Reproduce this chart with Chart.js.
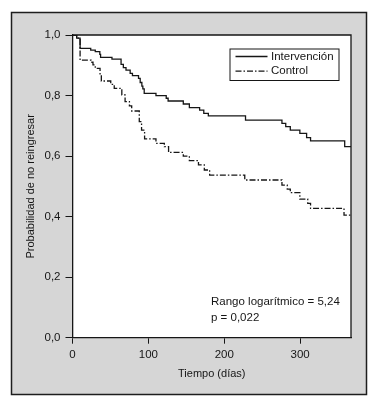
<!DOCTYPE html>
<html><head><meta charset="utf-8">
<script src="https://cdn.jsdelivr.net/npm/chart.js@4/dist/chart.umd.min.js"></script>
<style>html,body{margin:0;padding:0;background:#fff}#wrap{width:374px;height:402px;position:relative}</style>
</head><body><div id="wrap"><canvas id="c" width="374" height="402"></canvas></div>
<script>
// ---- data ----
const intLabel = 'Intervención';
const ctlLabel = 'Control';
const intTimes = [0, 5.5, 10, 24, 30, 36, 37, 52, 64, 67, 70.5, 76, 79, 87, 89.2, 91.4, 92.7, 94.5, 110, 123.5, 126, 146, 154, 167.5, 173, 179, 228, 276, 281, 287, 299.6, 308.5, 313.7, 358.7, 367];
const intSurv  = [1.0, 0.99, 0.956, 0.950, 0.945, 0.936, 0.926, 0.92, 0.903, 0.892, 0.884, 0.873, 0.866, 0.857, 0.843, 0.831, 0.822, 0.807, 0.80, 0.791, 0.782, 0.772, 0.76, 0.752, 0.741, 0.733, 0.719, 0.708, 0.697, 0.686, 0.675, 0.661, 0.65, 0.631, 0.631];
const ctlTimes = [0, 5.5, 10, 24.4, 27, 30, 36.3, 38, 50.4, 55, 65, 69.3, 75, 78, 88, 91, 95, 110, 121, 126.6, 146, 154, 166, 173.7, 180.7, 227, 276, 283, 287, 299.6, 310, 313.7, 357.8, 367];
const ctlSurv  = [1.0, 0.99, 0.917, 0.91, 0.901, 0.89, 0.868, 0.848, 0.837, 0.824, 0.802, 0.78, 0.766, 0.749, 0.714, 0.686, 0.657, 0.642, 0.631, 0.612, 0.600, 0.585, 0.571, 0.554, 0.537, 0.521, 0.504, 0.491, 0.479, 0.458, 0.444, 0.427, 0.405, 0.405];
const xTicks = [0, 100, 200, 300];
const yTicks = [0, 0.2, 0.4, 0.6, 0.8, 1.0];
const xTitle = 'Tiempo (días)';
const yTitle = 'Probabilidad de no reingresar';
const noteLines = ['Rango logarítmico = 5,24', 'p = 0,022'];

const FONT = "'Liberation Sans', Arial, sans-serif";
const INK = '#161616';

const toPts = (t, v) => t.map((x, i) => ({x: x, y: v[i]}));

const framePlugin = {
  id: 'frame',
  beforeDraw(chart) {
    const ctx = chart.ctx, a = chart.chartArea;
    ctx.save();
    ctx.fillStyle = '#fff';
    ctx.fillRect(0, 0, chart.width, chart.height);
    ctx.fillStyle = '#d6d6d6';
    ctx.fillRect(11, 12, 355, 382);
    ctx.strokeStyle = '#1e1e1e';
    ctx.lineWidth = 1.5;
    ctx.strokeRect(11.5, 12.5, 355, 382);
    ctx.fillStyle = '#fff';
    ctx.fillRect(a.left, a.top, a.right - a.left, a.bottom - a.top);
    ctx.restore();
  },
  afterDraw(chart) {
    const ctx = chart.ctx, a = chart.chartArea;
    ctx.save();
    ctx.strokeStyle = INK;
    ctx.lineWidth = 1.3;
    ctx.beginPath();
    ctx.moveTo(a.left, a.top);
    ctx.lineTo(a.right, a.top);
    ctx.lineTo(a.right, a.bottom);
    ctx.stroke();
    // legend box
    const lx = a.left + 157, ly = a.top + 13.5, lw = 109, lh = 31.5;
    ctx.fillStyle = '#fff';
    ctx.fillRect(lx, ly, lw, lh);
    ctx.lineWidth = 1;
    ctx.strokeStyle = INK;
    ctx.strokeRect(lx + 0.5, ly + 0.5, lw, lh);
    ctx.font = '11.5px ' + FONT;
    ctx.textBaseline = 'middle';
    ctx.textAlign = 'left';
    chart.data.datasets.forEach((ds, i) => {
      const yy = ly + 8 + i * 14.7;
      ctx.setLineDash(ds.borderDash || []);
      ctx.lineWidth = ds.borderWidth;
      ctx.strokeStyle = ds.borderColor;
      ctx.beginPath();
      ctx.moveTo(lx + 6, yy);
      ctx.lineTo(lx + 38, yy);
      ctx.stroke();
      ctx.setLineDash([]);
      ctx.fillStyle = INK;
      ctx.fillText(ds.label, lx + 41.5, yy);
    });
    // annotation
    ctx.textBaseline = 'alphabetic';
    noteLines.forEach((t, i) => ctx.fillText(t, a.left + 138.5, a.top + 270 + i * 15.7));
    ctx.restore();
  }
};

new Chart(document.getElementById('c'), {
  type: 'line',
  data: {
    datasets: [
      {label: intLabel, data: toPts(intTimes, intSurv), stepped: 'before', borderColor: INK, borderWidth: 1.3, pointRadius: 0, fill: false},
      {label: ctlLabel, data: toPts(ctlTimes, ctlSurv), stepped: 'before', borderColor: INK, borderWidth: 1.3, borderDash: [6, 2, 1.5, 2], pointRadius: 0, fill: false}
    ]
  },
  options: {
    responsive: false,
    animation: false,
    devicePixelRatio: 1,
    layout: {padding: {left: 12, right: 23, top: 35, bottom: 8}},
    plugins: {legend: {display: false}, tooltip: {enabled: false}},
    scales: {
      x: {
        type: 'linear', min: 0, max: 367,
        afterBuildTicks: s => { s.ticks = xTicks.map(v => ({value: v})); },
        afterFit: s => { s.height = 56.3; },
        grid: {drawOnChartArea: false, drawTicks: true, tickLength: 6, color: INK, lineWidth: 1},
        border: {display: true, color: INK, width: 1.3},
        ticks: {padding: 4, color: INK, autoSkip: false, maxRotation: 0, font: {family: FONT, size: 11.5}, callback: v => String(v)},
        title: {display: true, text: xTitle, color: INK, font: {family: FONT, size: 11}, padding: {top: 0, bottom: 13.5}}
      },
      y: {
        type: 'linear', min: 0, max: 1,
        afterBuildTicks: s => { s.ticks = yTicks.map(v => ({value: v})); },
        afterFit: s => { s.width = 60.5; },
        grid: {drawOnChartArea: false, drawTicks: true, tickLength: 7, color: INK, lineWidth: 1},
        border: {display: true, color: INK, width: 1.3},
        ticks: {padding: 5, color: INK, autoSkip: false, font: {family: FONT, size: 11.5}, callback: v => v.toFixed(1).replace('.', ',')},
        title: {display: true, text: yTitle, color: INK, font: {family: FONT, size: 11}, padding: {top: 12, bottom: 0}}
      }
    }
  },
  plugins: [framePlugin]
});
</script>
</body></html>
